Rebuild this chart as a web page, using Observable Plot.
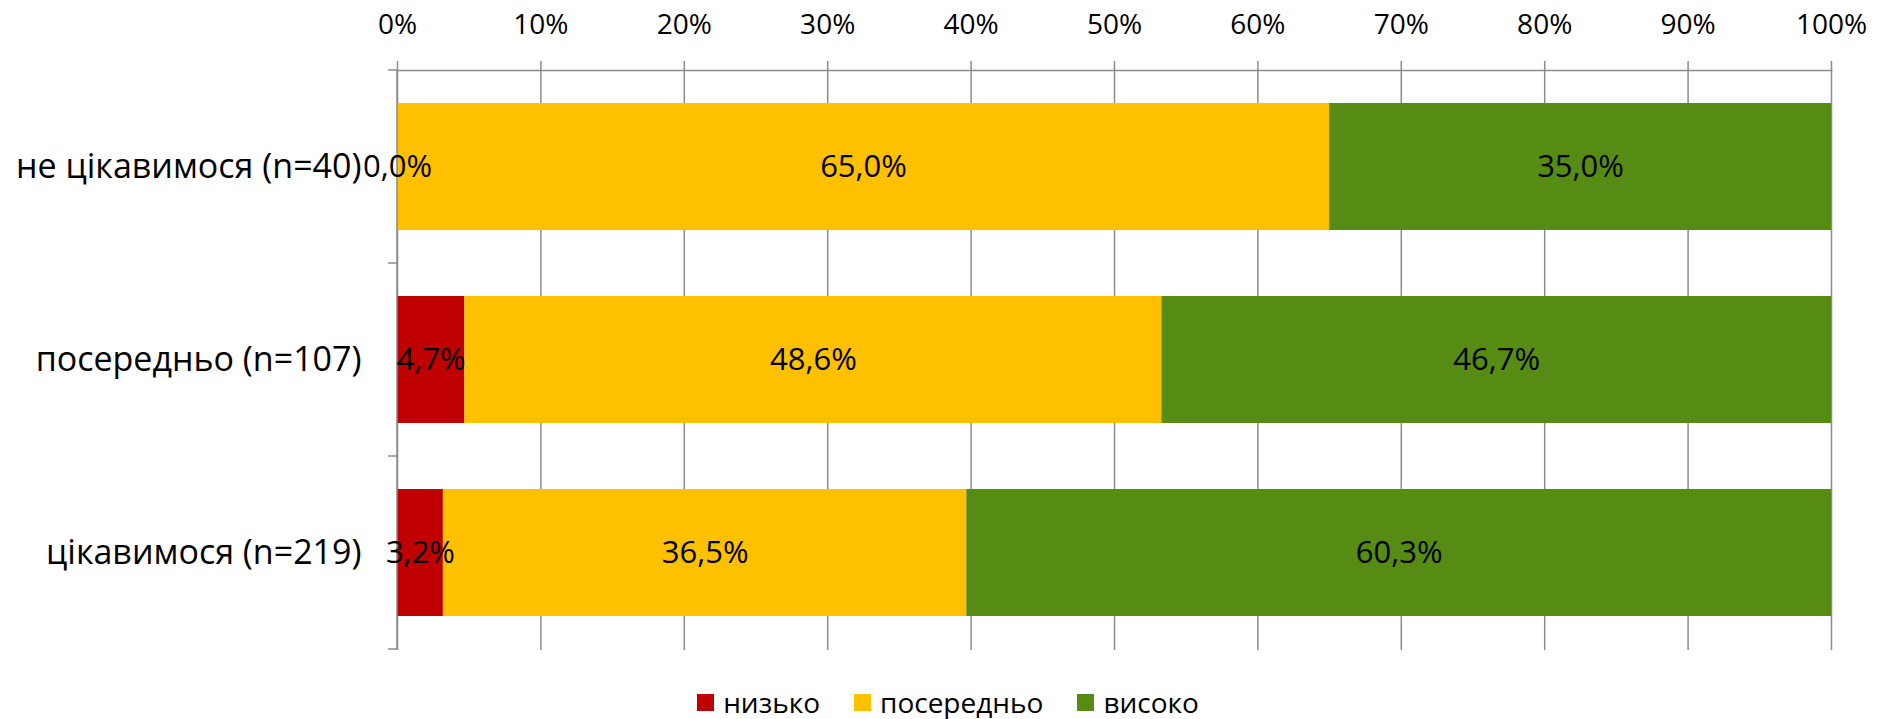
<!DOCTYPE html>
<html>
<head>
<meta charset="utf-8">
<script src="https://cdn.jsdelivr.net/npm/d3@7"></script>
<script src="https://cdn.jsdelivr.net/npm/@observablehq/plot@0.6"></script>
<style>
  html, body { margin: 0; padding: 0; background: #fff; }
  body { width: 1886px; height: 719px; overflow: hidden; font-family: "Open Sans", sans-serif; }
  #chart svg { display: block; }
  #legend { display: flex; justify-content: center; align-items: center; gap: 34px; margin-top: 28px; font-size: 28px; color: #000; height: 32px; line-height: 32px; padding-left: 10px; }
  #legend .item { display: flex; align-items: center; gap: 9px; }
  #legend .sw { width: 17px; height: 17px; display: inline-block; }
</style>
</head>
<body>
<div id="chart"></div>
<div id="legend"></div>
<script>
const categories = ["не цікавимося (n=40)", "посередньо (n=107)", "цікавимося (n=219)"];
const levels = ["низько", "посередньо", "високо"];
const colors = ["#C00000", "#FFC000", "#568B14"];
const lowValues = [0.0, 4.7, 3.2];
const midValues = [65.0, 48.6, 36.5];
const highValues = [35.0, 46.7, 60.3];
const xTicks = [0, 10, 20, 30, 40, 50, 60, 70, 80, 90, 100];

const series = [lowValues, midValues, highValues];
const data = [];
categories.forEach((c, i) => {
  levels.forEach((l, j) => {
    data.push({cat: c, level: l, value: series[j][i]});
  });
});

const fmt = v => v.toFixed(1).replace(".", ",") + "%";
const gridColor = "#8c8c8c";

function boundaryTicks(index, scales, values, dimensions) {
  const g = d3.create("svg:g");
  const y = scales.y;
  const x0 = scales.x(0);
  const step = y.step ? y.step() : (dimensions.height - dimensions.marginTop - dimensions.marginBottom) / categories.length;
  const bw = y.bandwidth ? y.bandwidth() : 0;
  const first = y(categories[0]) - (step - bw) / 2;
  for (let i = 0; i <= categories.length; i++) {
    const yy = first + i * step;
    g.append("line")
      .attr("x1", x0 - 9).attr("x2", x0)
      .attr("y1", yy).attr("y2", yy)
      .attr("stroke", gridColor).attr("stroke-width", 1.5);
  }
  g.append("line")
    .attr("x1", x0).attr("x2", x0)
    .attr("y1", first).attr("y2", first + categories.length * step)
    .attr("stroke", gridColor).attr("stroke-width", 1.5);
  return g.node();
}

const chart = Plot.plot({
  width: 1886,
  height: 658,
  marginLeft: 397,
  marginRight: 55,
  marginTop: 70,
  marginBottom: 8,
  style: {fontFamily: "Open Sans, sans-serif", background: "#fff", color: "#000"},
  x: {domain: [0, 100], axis: null},
  y: {domain: categories, paddingInner: 0.34, paddingOuter: 0.17, axis: null},
  color: {domain: levels, range: colors},
  marks: [
    Plot.gridX(xTicks, {stroke: gridColor, strokeOpacity: 1, strokeWidth: 1.5}),
    Plot.barX(data, Plot.stackX({x: "value", y: "cat", fill: "level", order: levels})),
    Plot.frame({anchor: "top", stroke: gridColor, strokeWidth: 1.5}),
    Plot.axisX({anchor: "top", ticks: xTicks, tickFormat: d => d + "%", tickSize: 10, tickPadding: 27, fontSize: 28, stroke: gridColor, strokeWidth: 1.5, strokeOpacity: 1, label: null}),
    Plot.axisY({anchor: "left", tickSize: 0, tickPadding: 36, fontSize: 34, label: null}),
    boundaryTicks,
    Plot.text(data, Plot.stackX({x: "value", y: "cat", z: "level", order: levels, text: d => fmt(d.value), fontSize: 31, fill: "#000"}))
  ]
});
document.getElementById("chart").appendChild(chart);

const legend = d3.select("#legend");
levels.forEach((l, i) => {
  const it = legend.append("div").attr("class", "item");
  it.append("span").attr("class", "sw").style("background", colors[i]);
  it.append("span").text(l);
});
</script>
</body>
</html>
